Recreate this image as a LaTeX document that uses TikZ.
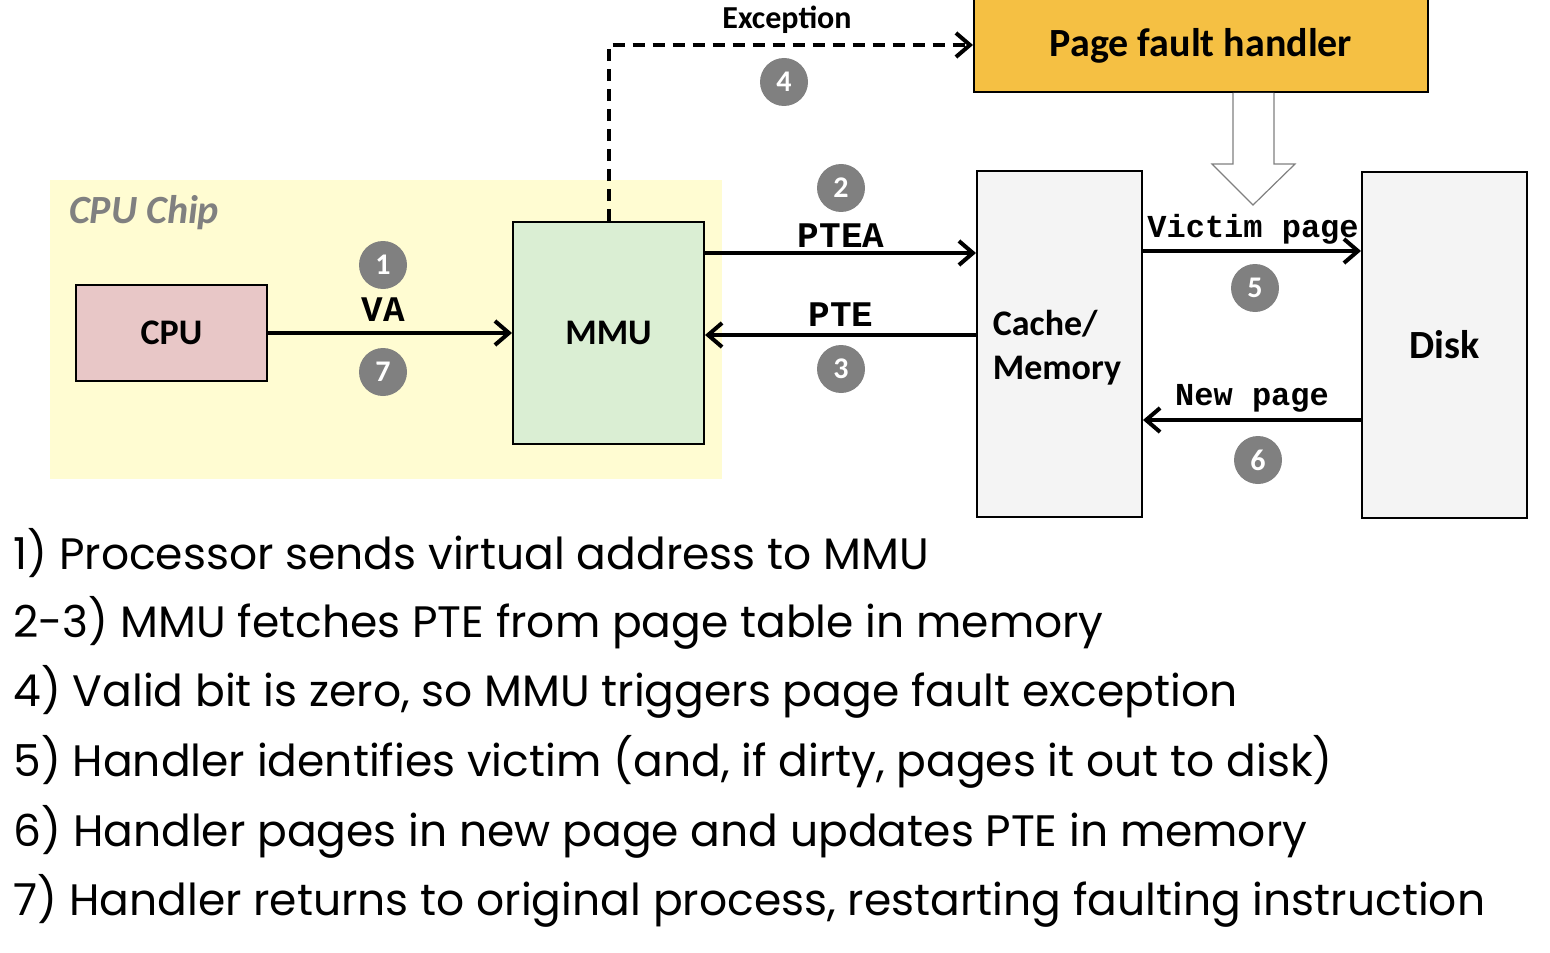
\documentclass[tikz,border=0pt]{standalone}
\usepackage{fontspec}
\setmainfont{Carlito}
\newfontfamily\monob{Liberation Mono}[UprightFont={* Bold}]
\newfontfamily\comicf{Poppins}
\usetikzlibrary{arrows.meta}
\definecolor{chipY}{HTML}{FFFCD2}
\definecolor{cpuP}{HTML}{E8C7C7}
\definecolor{mmuG}{HTML}{DAEED3}
\definecolor{boxG}{HTML}{F4F4F4}
\definecolor{handO}{HTML}{F5C043}
\definecolor{numgray}{HTML}{808080}
\definecolor{chipT}{HTML}{808080}
\begin{document}
\begin{tikzpicture}[x=0.5pt,y=-0.5pt,
  box/.style={draw=black, line width=1pt, inner sep=0pt},
  arr/.style={line width=2pt, -{Straight Barb[length=7pt,width=12pt,line width=2pt]}},
  num/.style={circle, fill=numgray, text=white, minimum size=24pt, inner sep=0pt, font=\bfseries\fontsize{15}{15}\selectfont},
  lbl/.style={font=\monob\fontsize{18}{18}\selectfont},
  slbl/.style={font=\monob\fontsize{16}{16}\selectfont},
  txt/.style={anchor=west, inner sep=0pt, font=\comicf\fontsize{22}{22}\selectfont}
]
\useasboundingbox (0,0) rectangle (1550,952);
% chip
\fill[chipY] (50,180) rectangle (722,479);
\node[anchor=west, text=chipT, font=\bfseries\itshape\fontsize{20}{20}\selectfont] (chip) at (62,213) {CPU Chip};
% boxes
\node[box, fill=cpuP, minimum width=95.5pt, minimum height=48pt, font=\bfseries\fontsize{18}{18}\selectfont] (cpu) at (171.5,333) {CPU};
\node[box, fill=mmuG, minimum width=95.5pt, minimum height=111pt, font=\bfseries\fontsize{18}{18}\selectfont] (mmu) at (608.5,333) {MMU};
\node[box, fill=boxG, minimum width=82.5pt, minimum height=173pt] (cache) at (1059.5,344) {};
\node[align=left, inner sep=0pt, font=\bfseries\fontsize{18}{22}\selectfont] (cachetxt) at (1057,348) {Cache/\\Memory};
\node[box, fill=boxG, minimum width=82.5pt, minimum height=173pt, font=\bfseries\fontsize{20}{20}\selectfont] (disk) at (1444.5,345) {Disk};
\node[box, fill=handO, minimum width=227pt, minimum height=46.5pt, font=\bfseries\fontsize{20}{20}\selectfont] (handler) at (1201,45.5) {\raisebox{-1.2pt}{Page fault handler}};
% hollow arrow
\draw[draw=numgray, fill=white, line width=0.6pt] (1233,93) -- (1233,164) -- (1212,164) -- (1253,205) -- (1295,164) -- (1274,164) -- (1274,93);
% connectors
\draw[arr] (cpu) -- (mmu);
\draw[arr] (mmu.east |- 0,253) -- (cache.west |- 0,253);
\draw[arr] (cache.west |- 0,335) -- (mmu.east |- 0,335);
\draw[arr] (cache.east |- 0,251) -- (disk.west |- 0,251);
\draw[arr] (disk.west |- 0,420) -- (cache.east |- 0,420);
\draw[arr, dash pattern=on 6pt off 4pt] (mmu.north) -- (mmu.north |- 0,45) -- (handler.west |- 0,45);
% labels
\node[lbl] (lva) at (383,310) {VA};
\node[lbl] (lptea) at (841,236) {PTEA};
\node[lbl] (lpte) at (841,315) {PTE};
\node[slbl] (lvic) at (1253,229) {Victim page};
\node[slbl] (lnew) at (1252,398) {New page};
\node[font=\bfseries\fontsize{16}{16}\selectfont] (lexc) at (787,20) {Exception};
% numbers
\node[num] (n1) at (383,265) {1};
\node[num] (n7) at (383,372) {7};
\node[num] (n2) at (841,188) {2};
\node[num] (n3) at (841,369) {3};
\node[num] (n4) at (784,82) {4};
\node[num] (n5) at (1255,288) {5};
\node[num] (n6) at (1258,460) {6};
% text
\node[txt] (t1) at (13,553) {1) Processor sends virtual address to MMU};
\node[txt] (t2) at (13,623) {2-3) MMU fetches PTE from page table in memory};
\node[txt] (t3) at (13,692) {4) Valid bit is zero, so MMU triggers page fault exception};
\node[txt] (t4) at (13,762) {5) Handler identifies victim (and, if dirty, pages it out to disk)};
\node[txt] (t5) at (13,832) {6) Handler pages in new page and updates PTE in memory};
\node[txt] (t6) at (13,901) {7) Handler returns to original process, restarting faulting instruction};
\end{tikzpicture}
\end{document}
